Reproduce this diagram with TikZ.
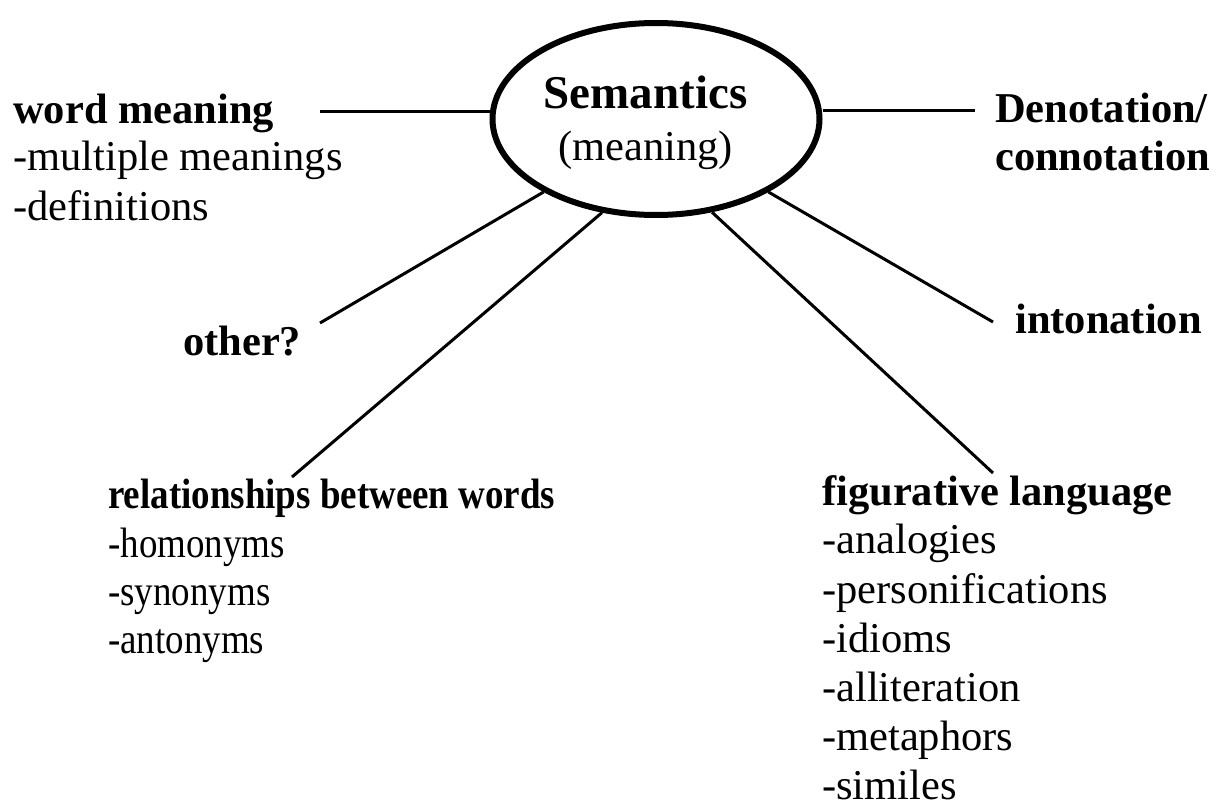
\documentclass[tikz,border=0pt]{standalone}
\usepackage{fontspec}
\setmainfont{Liberation Serif}
\newfontfamily\narrowserif[FakeStretch=0.87]{Liberation Serif}
\usetikzlibrary{shapes.geometric}
\tikzset{
  hub/.style={ellipse, draw, line width=6pt, minimum width=327pt, minimum height=192pt, inner sep=0pt},
  head/.style={anchor=base west, inner sep=0pt, font=\fontsize{42.5}{50}\selectfont\bfseries},
  item/.style={anchor=base west, inner sep=0pt, font=\fontsize{42.5}{50}\selectfont},
  narrowhead/.style={head, font=\fontsize{42.5}{50}\selectfont\narrowserif\bfseries},
  narrowitem/.style={item, font=\fontsize{42.5}{50}\selectfont\narrowserif},
  spoke/.style={line width=3pt},
}
\begin{document}
\begin{tikzpicture}[x=1pt, y=-1pt]
\useasboundingbox (0,0) rectangle (1216,806);

% central ellipse
\node[hub] (sem) at (656,119) {};
\node[anchor=base, inner sep=0pt, font=\fontsize{47}{50}\selectfont\bfseries] (semt) at (645.5,108) {Semantics};
\node[anchor=base, inner sep=0pt, font=\fontsize{42.5}{50}\selectfont] (semm) at (645.5,160) {(meaning)};

% word meaning
\node[head] (wm) at (13,123) {word meaning};
\node[item] (wm1) at (13,170) {-multiple meanings};
\node[item] (wm2) at (13,220) {-definitions};

% denotation / connotation
\node[head] (dn) at (995,122) {Denotation/};
\node[head] (dn2) at (995,170) {connotation};

% intonation
\node[head] (in) at (1015,333) {intonation};

% other?
\node[head] (ot) at (183,355) {other?};

% relationships between words
\node[narrowhead] (rel) at (108,508) {relationships between words};
\node[narrowitem] (rel1) at (108,557) {-homonyms};
\node[narrowitem] (rel2) at (108,605) {-synonyms};
\node[narrowitem] (rel3) at (108,653) {-antonyms};

% figurative language
\node[head] (fig) at (822,505) {figurative language};
\node[item] (fig1) at (822,553) {-analogies};
\node[item] (fig2) at (822,603) {-personifications};
\node[item] (fig3) at (822,652) {-idioms};
\node[item] (fig4) at (822,701) {-alliteration};
\node[item] (fig5) at (822,750) {-metaphors};
\node[item] (fig6) at (822,799) {-similes};

% free ends of the spokes
\coordinate (wm-end) at (320,111);
\coordinate (dn-end) at (975,110);
\coordinate (ot-end) at (320,323);
\coordinate (rel-end) at (292,477);
\coordinate (fig-end) at (993,473);
\coordinate (in-end) at (993,322);

% spokes
\draw[spoke] (wm-end) -- (wm-end -| sem.west);
\draw[spoke] (dn-end) -- (dn-end -| sem.east);
\draw[spoke] (ot-end) -- (sem.213);
\draw[spoke] (rel-end) -- (sem.240);
\draw[spoke] (fig-end) -- (sem.301);
\draw[spoke] (in-end) -- (sem.327);
\end{tikzpicture}
\end{document}
